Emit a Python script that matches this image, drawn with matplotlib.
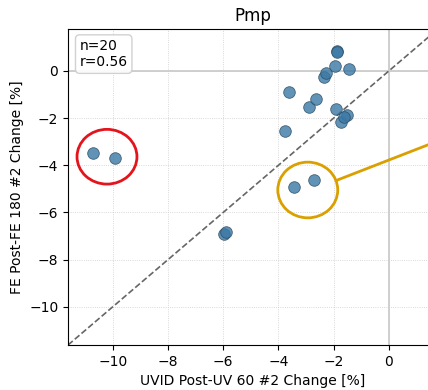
import matplotlib.pyplot as plt
from matplotlib.patches import Ellipse

# UVID Post-UV 60 #2 change vs FE Post-FE 180 #2 change, Pmp
uvid_change = [-10.71, -9.93, -5.96, -5.90, -3.75, -3.61, -3.45, -2.73, -2.88, -2.66,
               -2.37, -2.29, -1.94, -1.89, -1.88, -1.46, -1.92, -1.74, -1.51, -1.62]
fe_change = [-3.49, -3.70, -6.92, -6.81, -2.53, -0.89, -4.92, -4.64, -1.55, -1.18,
             -0.24, -0.11, 0.22, 0.84, 0.81, 0.08, -1.63, -2.15, -1.86, -1.97]
stats_text = "n=20\nr=0.56"
lims = (-11.62, 1.77)

fig = plt.figure(figsize=(4.28, 3.90), dpi=100)
ax = fig.add_axes([0.159, 0.1154, 0.864, 0.810])

ax.grid(True, linestyle=":", linewidth=0.6, color="#cccccc")
ax.axhline(0, color="#cccccc", linewidth=1.3, zorder=1)
ax.axvline(0, color="#cccccc", linewidth=1.3, zorder=1)
ax.plot(lims, lims, linestyle="--", color="#666666", linewidth=1.2, zorder=2)

ax.scatter(uvid_change, fe_change, s=70, color="#3a78a5", alpha=0.8,
           edgecolors="#2a4a60", linewidths=0.6, zorder=3)

ax.add_patch(Ellipse((-10.21, -3.64), 2.17, 2.32, fill=False,
                     edgecolor="#e3141c", linewidth=2, zorder=4))
ax.add_patch(Ellipse((-2.94, -5.05), 2.17, 2.36, fill=False,
                     edgecolor="#d9a000", linewidth=2, zorder=4))
# pointer line leaving the axes to the right
ax.plot([-1.85, 4.0], [-4.62, -1.96], color="#d9a000", linewidth=2,
        clip_on=False, zorder=4)

ax.text(-11.2, 1.35, stats_text, fontsize=10, va="top", ha="left",
        bbox=dict(boxstyle="round,pad=0.3", facecolor="white",
                  edgecolor="#cccccc", alpha=0.9), zorder=5)

ax.set_xlim(lims)
ax.set_ylim(lims)
ax.set_xticks([-10, -8, -6, -4, -2, 0])
ax.set_yticks([0, -2, -4, -6, -8, -10])
ax.set_title("Pmp", fontsize=12)
ax.set_xlabel("UVID Post-UV 60 #2 Change [%]", fontsize=10)
ax.set_ylabel("FE Post-FE 180 #2 Change [%]", fontsize=10)

fig.savefig("out.png", dpi=100)
